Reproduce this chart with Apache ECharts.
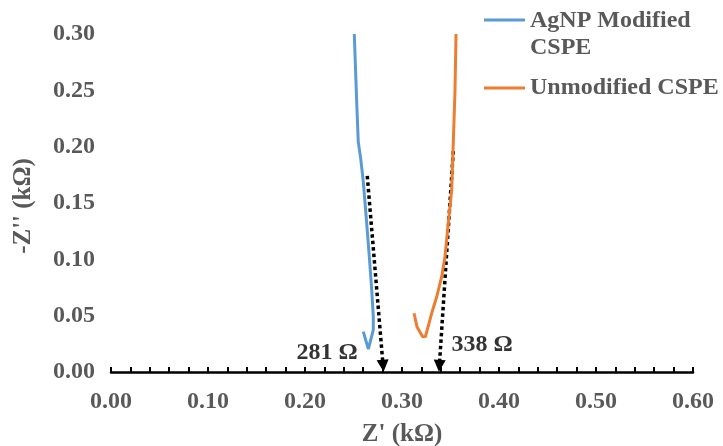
<!DOCTYPE html>
<html>
<head>
	<meta charset="utf-8">
	<title>Nyquist plot</title>
	<script src="https://cdn.jsdelivr.net/npm/echarts@6/dist/echarts.min.js"></script>
	<style type="text/css">
		* {
			padding: 0;
			margin: 0;
		}
		#chart {
			width: 723px;
			height: 446px;
		}
	</style>
</head>
<body>
	<div id="chart"></div>
	<script type="text/javascript">
		// Z' and -Z'' in kOhm (top of curve down to the hook)
		var agnpX = [0.2508, 0.2533, 0.2549, 0.2574, 0.2601, 0.2636, 0.2663, 0.2688, 0.2704, 0.2704, 0.2653, 0.2601];
		var agnpY = [0.300, 0.2398, 0.2043, 0.1896, 0.1689, 0.1322, 0.1023, 0.0728, 0.0491, 0.0373, 0.0204, 0.0358];
		var unmodX = [0.3124, 0.3155, 0.3213, 0.3242, 0.3306, 0.3358, 0.3409, 0.3443, 0.3477, 0.3512, 0.3529, 0.3546, 0.3557];
		var unmodY = [0.0521, 0.0399, 0.0313, 0.0315, 0.0521, 0.0668, 0.0846, 0.1023, 0.1319, 0.1615, 0.2043, 0.2487, 0.300];

		// dotted extrapolation arrows (start, end just above axis) and their labels
		var arrowStart = [[0.2642, 0.174], [0.3529, 0.196]];
		var arrowEnd = [[0.2805, 0.0055], [0.3385, 0.0055]];
		var rctLabels = ['281 Ω', '338 Ω'];
		var rctLabelPos = [[0.2227, 0.0169], [0.3825, 0.024]];

		var xTickLabels = ['0.00', '0.10', '0.20', '0.30', '0.40', '0.50', '0.60'];
		var seriesNames = ['AgNP Modified CSPE', 'Unmodified CSPE'];

		function zip(xs, ys) {
			var out = [];
			for (let i = 0; i < xs.length; i++) {
				out.push([xs[i], ys[i]]);
			}
			return out;
		}

		var grey = '#595959';
		var serif = 'Liberation Serif';

		var arrowData = [];
		var labelData = [];
		for (let i = 0; i < arrowStart.length; i++) {
			arrowData.push({coords: [arrowStart[i], arrowEnd[i]]});
			labelData.push({value: rctLabelPos[i], name: rctLabels[i]});
		}

		var myChart = echarts.init(document.getElementById('chart'), null, {renderer: 'canvas'});
		var option = {
			animation: false,
			backgroundColor: '#fff',
			grid: {
				left: 111,
				right: 30,
				top: 34,
				bottom: 74,
				containLabel: false,
				outerBoundsMode: 'none'
			},
			xAxis: {
				type: 'value',
				min: 0,
				max: 0.6,
				interval: 0.02,
				name: "Z' (kΩ)",
				nameLocation: 'middle',
				nameGap: 50,
				nameTextStyle: {color: grey, fontFamily: serif, fontWeight: 'bold', fontSize: 25},
				axisLine: {lineStyle: {color: '#000', width: 2.5}},
				axisTick: {inside: true, length: 5, lineStyle: {color: '#000', width: 2}},
				splitLine: {show: false},
				axisLabel: {
					color: grey, fontFamily: serif, fontWeight: 'bold', fontSize: 24, margin: 18,
					formatter: function (v) {
						var k = Math.round(v * 100);
						if (k % 10 !== 0) return '';
						return xTickLabels[k / 10];
					}
				}
			},
			yAxis: {
				type: 'value',
				min: 0,
				max: 0.3,
				interval: 0.05,
				name: "-Z'' (kΩ)",
				nameLocation: 'middle',
				nameGap: 75,
				nameTextStyle: {color: grey, fontFamily: serif, fontWeight: 'bold', fontSize: 25, padding: [0, 6, 0, 0]},
				axisLine: {show: false},
				axisTick: {show: false},
				splitLine: {show: false},
				axisLabel: {
					color: grey, fontFamily: serif, fontWeight: 'bold', fontSize: 24, margin: 16,
					formatter: function (v) { return v.toFixed(2); }
				}
			},
			series: [
				{
					name: seriesNames[0],
					type: 'line',
					data: zip(agnpX, agnpY),
					showSymbol: false,
					lineStyle: {color: '#5B9BD5', width: 3},
					clip: true
				},
				{
					name: seriesNames[1],
					type: 'line',
					data: zip(unmodX, unmodY),
					showSymbol: false,
					lineStyle: {color: '#ED7D31', width: 3},
					clip: true
				},
				{
					type: 'lines',
					coordinateSystem: 'cartesian2d',
					data: arrowData,
					symbol: ['none', 'triangle'],
					symbolSize: [11, 12],
					lineStyle: {color: '#000', width: 3.5, type: [3.5, 3], opacity: 1},
					itemStyle: {color: '#000'},
					z: 3
				},
				{
					type: 'scatter',
					data: labelData,
					symbolSize: 0,
					label: {
						show: true,
						position: 'inside',
						formatter: '{b}',
						color: '#000',
						fontFamily: serif,
						fontWeight: 'bold',
						fontSize: 24
					},
					z: 4
				}
			],
			graphic: [
				{type: 'line', shape: {x1: 484, y1: 20, x2: 525, y2: 20}, style: {stroke: '#5B9BD5', lineWidth: 3}},
				{type: 'text', x: 530, y: 21, style: {text: 'AgNP Modified', fill: grey, font: 'bold 24px "Liberation Serif"', verticalAlign: 'middle'}},
				{type: 'text', x: 530, y: 48, style: {text: 'CSPE', fill: grey, font: 'bold 24px "Liberation Serif"', verticalAlign: 'middle'}},
				{type: 'line', shape: {x1: 484, y1: 88, x2: 525, y2: 88}, style: {stroke: '#ED7D31', lineWidth: 3}},
				{type: 'text', x: 530, y: 88, style: {text: 'Unmodified CSPE', fill: grey, font: 'bold 24px "Liberation Serif"', verticalAlign: 'middle'}}
			]
		};
		myChart.setOption(option);
	</script>
</body>
</html>
